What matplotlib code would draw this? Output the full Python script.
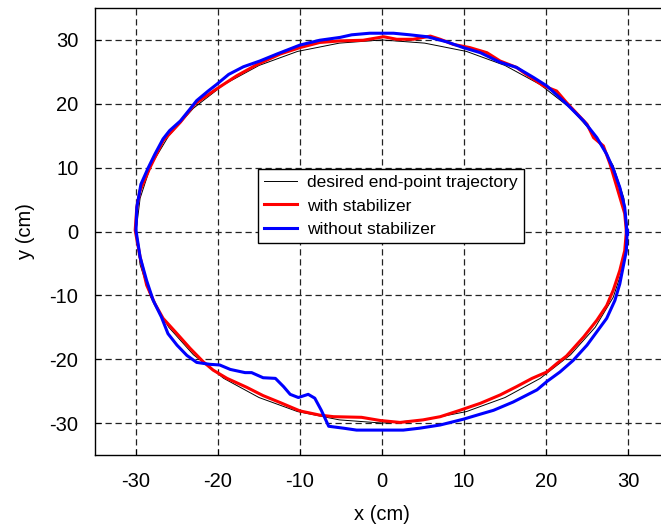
import matplotlib
matplotlib.use('Agg')
import matplotlib.pyplot as plt

plt.rcParams['font.family'] = ['Liberation Sans', 'DejaVu Sans']
plt.rcParams['axes.unicode_minus'] = False

# desired end-point trajectory (circle, r = 30 cm), read every 10 deg
desired_x = [30.0, 29.5, 28.2, 26.0, 23.0, 19.3, 15.0, 10.3, 5.2, 0.0,
             -5.2, -10.3, -15.0, -19.3, -23.0, -26.0, -28.2, -29.5, -30.0,
             -29.5, -28.2, -26.0, -23.0, -19.3, -15.0, -10.3, -5.2, 0.0,
             5.2, 10.3, 15.0, 19.3, 23.0, 26.0, 28.2, 29.5, 30.0]
desired_y = [0.0, 5.2, 10.3, 15.0, 19.3, 23.0, 26.0, 28.2, 29.5, 30.0,
             29.5, 28.2, 26.0, 23.0, 19.3, 15.0, 10.3, 5.2, 0.0,
             -5.2, -10.3, -15.0, -19.3, -23.0, -26.0, -28.2, -29.5, -30.0,
             -29.5, -28.2, -26.0, -23.0, -19.3, -15.0, -10.3, -5.2, 0.0]

# with stabilizer
with_x = [29.8, 29.6, 29.0, 27.8, 27.0, 25.8, 25.0, 22.5, 21.3, 19.7, 17.6,
          16.4, 14.4, 12.8, 10.7, 8.7, 7.1, 5.9, 3.8, 1.8, 0.2, -2.3, -5.1,
          -7.6, -10.0, -12.4, -15.3, -17.7, -20.2, -22.8, -24.6, -26.7, -28.3,
          -29.5, -29.9, -30.1, -29.5, -28.7, -27.7, -26.7, -25.0, -23.4, -21.8,
          -20.6, -18.9, -16.5, -14.5, -12.4, -10.0, -7.6, -5.9, -2.5, -0.2,
          2.2, 5.0, 7.1, 9.5, 12.0, 14.4, 16.4, 18.3, 20.1, 21.3, 22.5, 24.6,
          26.2, 27.4, 28.2, 29.0, 29.6, 29.8]
with_y = [0.0, 2.8, 5.4, 10.6, 13.4, 14.7, 16.8, 20.2, 22.0, 22.8, 24.6,
          25.7, 26.7, 28.0, 28.8, 29.3, 30.1, 30.6, 30.1, 30.1, 30.5, 29.95,
          29.85, 29.6, 28.8, 27.8, 26.1, 24.4, 22.3, 20.0, 17.1, 14.2, 10.0,
          6.4, 3.8, 0.2, -4.0, -8.4, -11.3, -13.6, -16.0, -18.3, -20.4,
          -21.7, -23.0, -24.4, -25.7, -26.8, -28.1, -28.75, -29.0, -29.1,
          -29.6, -29.9, -29.5, -29.0, -28.0, -26.9, -25.6, -24.3, -23.0,
          -22.0, -20.7, -19.5, -16.5, -13.9, -11.6, -9.2, -6.1, -3.0, 0.0]

# without stabilizer
without_x = [29.9, 29.6, 29.0, 28.2, 27.4, 26.2, 24.6, 22.5, 20.1, 18.5, 16.4,
             14.4, 12.0, 9.9, 7.9, 5.5, 3.4, 1.4, -1.5, -3.7, -5.1, -7.6,
             -10.0, -12.8, -14.9, -16.9, -18.7, -20.2, -21.2, -22.6, -23.4,
             -24.6, -25.9, -26.7, -27.7, -28.5, -29.4, -29.9, -30.0,
             -29.5, -28.7, -27.9, -26.9, -26.1, -25.0, -23.8, -22.6, -21.0,
             -19.8, -18.5, -16.7, -15.9, -14.5, -13.0, -12.0, -11.2, -10.2,
             -9.0, -8.2, -7.4, -6.5, -4.7, -3.1, -0.2, 2.6, 4.6, 7.1, 9.9,
             12.0, 13.6, 16.0, 18.9, 20.1, 21.7, 23.3, 25.0, 26.2, 27.4, 28.4,
             29.0, 29.4, 29.8, 29.9]
without_y = [-0.4, 3.8, 6.9, 9.8, 12.1, 14.7, 17.3, 20.0, 22.8, 24.1, 25.7,
             26.5, 28.0, 28.8, 29.7, 30.5, 30.8, 31.05, 31.05, 30.8, 30.4,
             29.95, 29.2, 27.8, 26.7, 25.8, 24.6, 23.0, 22.0, 20.5, 19.2,
             17.3, 15.8, 14.5, 12.1, 10.0, 7.4, 3.8, 0.16, -4.0, -7.7,
             -10.8, -13.4, -16.0, -17.8, -19.4, -20.5, -20.8, -20.9, -21.6,
             -22.1, -22.1, -22.9, -23.0, -24.3, -25.5, -26.0, -25.5, -26.1,
             -28.0, -30.5, -30.8, -31.1, -31.1, -31.1, -30.8, -30.3, -29.4,
             -28.6, -28.0, -26.7, -24.8, -23.5, -22.0, -20.2, -17.8, -15.7,
             -13.6, -10.8, -8.2, -5.6, -3.0, 0.2]

ticks = [-30, -20, -10, 0, 10, 20, 30]

fig = plt.figure(figsize=(6.61, 5.26), dpi=100)
ax = fig.add_axes([95 / 661, 71 / 526, 574 / 661, 447 / 526])

ax.plot(desired_x, desired_y, color='black', lw=0.7, label='desired end-point trajectory')
ax.plot(with_x, with_y, color='red', lw=2.2, label='with stabilizer')
ax.plot(without_x, without_y, color='blue', lw=2.2, label='without stabilizer')

ax.set_xlim(-35, 35)
ax.set_ylim(-35, 35)
ax.set_xticks(ticks)
ax.set_yticks(ticks)
ax.grid(True, color='#222222', lw=0.9, linestyle=(0, (5, 3)))
ax.tick_params(direction='in', length=4, labelsize=14.5, pad=12)
for s in ax.spines.values():
    s.set_linewidth(1.0)

ax.set_xlabel('x (cm)', fontsize=14.5, labelpad=10)
ax.set_ylabel('y (cm)', fontsize=14.5, labelpad=10)

leg = ax.legend(loc='center', bbox_to_anchor=(391 / 661, 1 - 206 / 526),
                bbox_transform=fig.transFigure, fontsize=12.5, fancybox=False,
                framealpha=1, edgecolor='black', borderpad=0.35,
                labelspacing=0.5, handlelength=1.9, handletextpad=0.6,
                borderaxespad=0)
leg.get_frame().set_linewidth(1.0)

fig.savefig('out.png', dpi=100)
